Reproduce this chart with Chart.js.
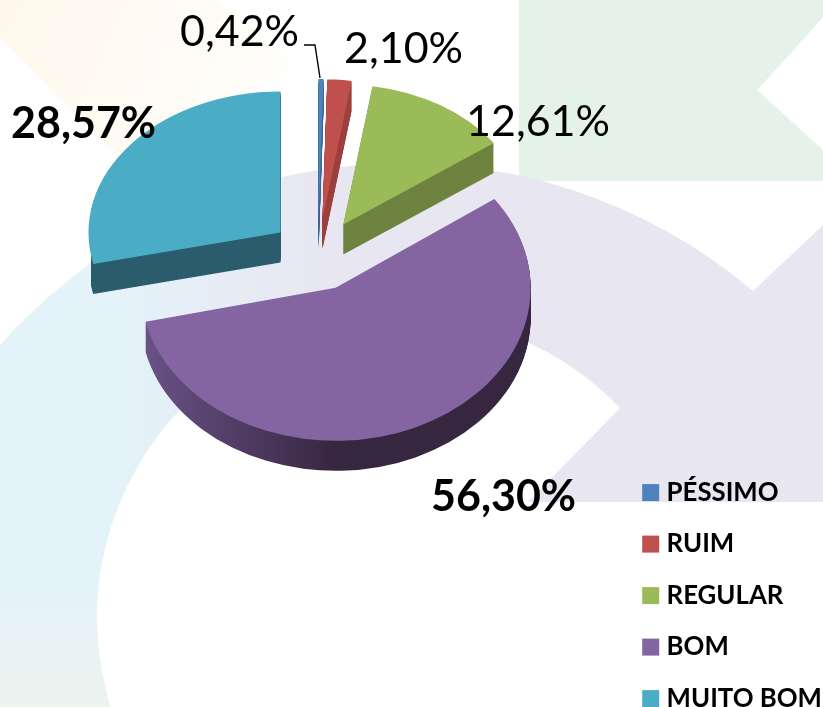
<!DOCTYPE html>
<html lang="pt">
<head>
<meta charset="utf-8">
<title>Avaliação</title>
<script src="https://cdn.jsdelivr.net/npm/chart.js@4"></script>
<style>
html,body{margin:0;padding:0;background:#fff;width:823px;height:707px;overflow:hidden}
#bg,#c{position:absolute;left:0;top:0;width:823px;height:707px;display:block}
</style>
</head>
<body>
<svg id="bg" width="823" height="707" viewBox="0 0 823 707" xmlns="http://www.w3.org/2000/svg">
  <defs>
    <linearGradient id="ring" gradientUnits="userSpaceOnUse" x1="120" y1="0" x2="340" y2="0">
      <stop offset="0" stop-color="#e4f2f9"/><stop offset="1" stop-color="#e8e6f1"/>
    </linearGradient>
    <linearGradient id="tint" gradientUnits="userSpaceOnUse" x1="0" y1="590" x2="0" y2="707">
      <stop offset="0" stop-color="#edf4ef" stop-opacity="0"/><stop offset="1" stop-color="#edf4ef"/>
    </linearGradient>
    <linearGradient id="warm" gradientUnits="userSpaceOnUse" x1="0" y1="0" x2="280" y2="120">
      <stop offset="0" stop-color="#fff8ec"/><stop offset="1" stop-color="#fffefb"/>
    </linearGradient>
  </defs>
  <path d="M0 38 L125 165 L300 65 L217 0 L0 0 Z" fill="url(#warm)"/>
  <path d="M519 0 H823 V17 Q790 55 757 90 L823 150 V181 H519 Z" fill="#e4f2e9"/>
  <path d="M0 345 A540 540 0 0 1 753 291 L823 225 V502 H528 L620 408 A304 304 0 0 0 110 707 H0 Z" fill="url(#ring)"/>
  <path d="M0 590 H94 Q96 650 110 707 H0 Z" fill="url(#tint)"/>
</svg>
<canvas id="c" width="823" height="707"></canvas>
<script>
const categories = ['PÉSSIMO', 'RUIM', 'REGULAR', 'BOM', 'MUITO BOM'];
const percentages = [0.42, 2.10, 12.61, 56.30, 28.57];
const topColors = ['#4f81bd', '#c0504d', '#9bbb59', '#8465a2', '#4bacc6'];
const wallColors = ['#3f6797', '#9c413e', '#6f8340', '#372640', '#2b5d6d'];

// 3D look: tilt, explosion, thickness and per-slice perspective size
const EXPLODE = 48, TILT = 0.75, DEPTH = 30;
const sliceRx = [185, 185, 185, 195, 192];
const sliceRy = [140, 140, 140, 153, 141];
const sliceNudgeX = [0, 0, 0, -2, 0];
const wallMinX = [0, 0, 0, 0, 91];
const drawOrder = [4, 0, 1, 2, 3];
// label placement: [x, baseline y, bold]
const labelSpots = [[180, 46, false], [344, 63, false], [466, 136, false], [431, 511, true], [11, 138, true]];
const leader = [[304, 45], [315, 45], [320, 78]];

const pctText = v => v.toFixed(2).replace('.', ',') + '%';

const pie3d = {
  id: 'pie3d',
  afterLayout(chart) {
    const l = chart.legend;
    l.left = 622; l.right = 823; l.top = 454; l.bottom = 800;
  },
  beforeDatasetsDraw(chart) {
    const ctx = chart.ctx;
    const arcs = chart.getDatasetMeta(0).data;
    const put = (arc, i, dy, fill) => {
      const mid = (arc.startAngle + arc.endAngle) / 2;
      const saved = arc.options;
      arc.options = Object.assign({}, saved, {backgroundColor: fill, borderWidth: 0});
      ctx.save();
      ctx.translate(arc.x + Math.cos(mid) * EXPLODE + sliceNudgeX[i], arc.y + Math.sin(mid) * EXPLODE * TILT + dy);
      ctx.scale(sliceRx[i] / arc.outerRadius, sliceRy[i] / arc.outerRadius);
      ctx.translate(-arc.x, -arc.y);
      arc.draw(ctx);
      ctx.restore();
      arc.options = saved;
    };
    drawOrder.forEach(i => {
      const arc = arcs[i];
      let wall = wallColors[i];
      if (categories[i] === 'BOM') {
        const R = arc.outerRadius;
        wall = ctx.createLinearGradient(arc.x - R, 0, arc.x + R, 0);
        wall.addColorStop(0, '#6a5388');
        wall.addColorStop(0.5, '#372640');
        wall.addColorStop(1, '#372640');
      }
      ctx.save();
      ctx.beginPath();
      ctx.rect(wallMinX[i], 0, chart.width, chart.height);
      ctx.clip();
      for (let d = DEPTH; d >= 1; d--) put(arc, i, d, wall);
      ctx.restore();
      put(arc, i, 0, topColors[i]);
    });

    ctx.save();
    ctx.strokeStyle = '#000';
    ctx.lineWidth = 1.4;
    ctx.beginPath();
    leader.forEach((p, k) => k ? ctx.lineTo(p[0], p[1]) : ctx.moveTo(p[0], p[1]));
    ctx.stroke();
    ctx.fillStyle = '#000';
    ctx.textAlign = 'left';
    ctx.textBaseline = 'alphabetic';
    percentages.forEach((v, i) => {
      const [x, y, bold] = labelSpots[i];
      ctx.font = (bold ? 'bold ' : '') + '43px Lato';
      ctx.fillText(pctText(v), x, y);
    });
    ctx.restore();
    return false;
  }
};

new Chart(document.getElementById('c'), {
  type: 'pie',
  data: {
    labels: categories,
    datasets: [{data: percentages, backgroundColor: topColors, borderWidth: 0}]
  },
  options: {
    responsive: false,
    animation: false,
    layout: {padding: {left: 128, right: 315, top: 65, bottom: 262}},
    plugins: {
      tooltip: {enabled: false},
      legend: {
        position: 'chartArea',
        align: 'start',
        labels: {
          usePointStyle: true,
          pointStyle: 'rect',
          boxWidth: 6,
          boxHeight: 17,
          padding: 25.7,
          color: '#000',
          font: {family: 'Lato', size: 25.8, weight: 'bold'}
        }
      }
    }
  },
  plugins: [pie3d]
});
</script>
</body>
</html>
